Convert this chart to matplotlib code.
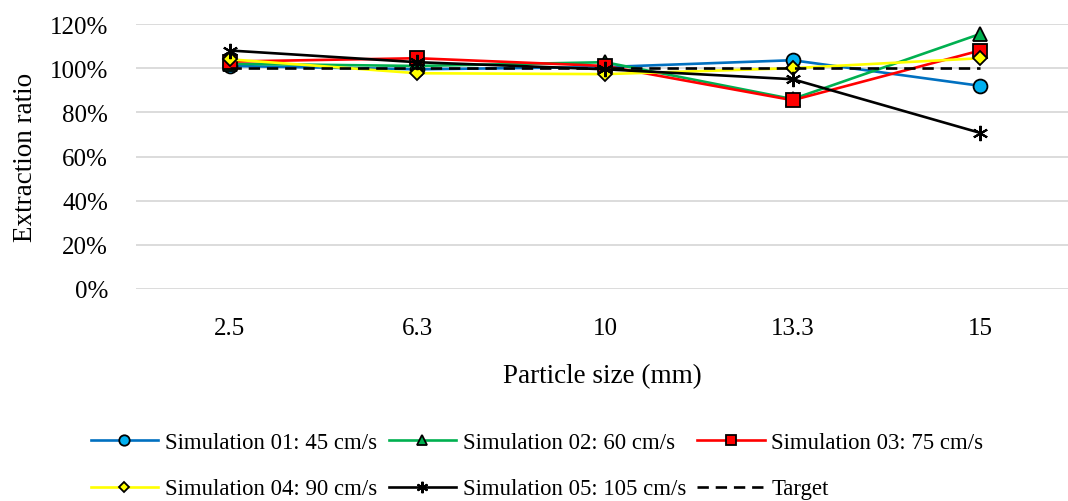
import matplotlib
matplotlib.use("Agg")
import matplotlib.pyplot as plt
import numpy as np

# ================================== data ==================================
sizes = ["2.5", "6.3", "10", "13.3", "15"]
sim01 = [1.01, 0.995, 1.005, 1.036, 0.92]
sim02 = [1.02, 1.01, 1.027, 0.86, 1.155]
sim03 = [1.03, 1.045, 1.01, 0.855, 1.08]
sim04 = [1.04, 0.977, 0.973, 1.00, 1.045]
sim05 = [1.08, 1.027, 0.995, 0.95, 0.707]
target = [1.0, 1.0, 1.0, 1.0, 1.0]

labels = ["Simulation 01: 45 cm/s", "Simulation 02: 60 cm/s", "Simulation 03: 75 cm/s",
          "Simulation 04: 90 cm/s", "Simulation 05: 105 cm/s", "Target"]

plt.rcParams['font.family'] = ['Liberation Serif', 'DejaVu Serif']

# ================================== figure ==================================
fig = plt.figure(figsize=(10.68, 5.02), dpi=100)
ax = fig.add_axes([136 / 1068, 1 - 290 / 502, 1 - 136 / 1068, 265 / 502])

x = np.arange(len(sizes))
lw = 1.9
h1, = ax.plot(x, sim01, color='#0070C0', lw=lw, marker='o', ms=10, mfc='#00B0F0', mec='black', mew=1.3)
h2, = ax.plot(x, sim02, color='#00B050', lw=lw, marker='^', ms=10, mfc='#00B050', mec='black', mew=1.3)
h3, = ax.plot(x, sim03, color='#FF0000', lw=lw, marker='s', ms=9.5, mfc='#FF0000', mec='black', mew=1.3)
h4, = ax.plot(x, sim04, color='#FFFF00', lw=lw, marker='D', ms=7, mfc='#FFFF00', mec='black', mew=1.3)
h5, = ax.plot(x, sim05, color='black', lw=lw, marker=(6, 2, 0), ms=11, mec='black', mew=1.5)
h6, = ax.plot(x, target, color='black', lw=lw, ls=(0, (4.3, 2.6)))

# axes
ax.set_ylim(0, 1.2)
ax.set_yticks(np.arange(0, 1.21, 0.2))
ax.set_yticklabels([f"{int(round(v * 100))}%" for v in np.arange(0, 1.21, 0.2)])
ax.set_xlim(-0.5, 4.5 - 6 / 187.5)
ax.set_xticks(x)
ax.set_xticklabels(sizes)
ax.tick_params(length=0, labelsize=18)
ax.tick_params(axis='y', pad=20)
ax.tick_params(axis='x', pad=20)
ax.grid(axis='y', color='#D9D9D9', lw=1.3)
ax.set_axisbelow(True)
for s in ax.spines.values():
    s.set_visible(False)

ax.set_xlabel("Particle size (mm)", fontsize=19.5, labelpad=17.5)
ax.set_ylabel("Extraction ratio", fontsize=19.5, labelpad=8.5)

# legend fills column by column, so order handles to read row by row
handles = [h1, h4, h2, h5, h3, h6]
names = [labels[0], labels[3], labels[1], labels[4], labels[2], labels[5]]
fig.legend(handles, names, loc='center', bbox_to_anchor=(0.503, 0.0707), ncol=3, frameon=False,
           fontsize=16.4, handlelength=2.95, handletextpad=0.3, columnspacing=0.5,
           labelspacing=1.14, markerscale=0.75)

fig.savefig("out.png", dpi=100)
